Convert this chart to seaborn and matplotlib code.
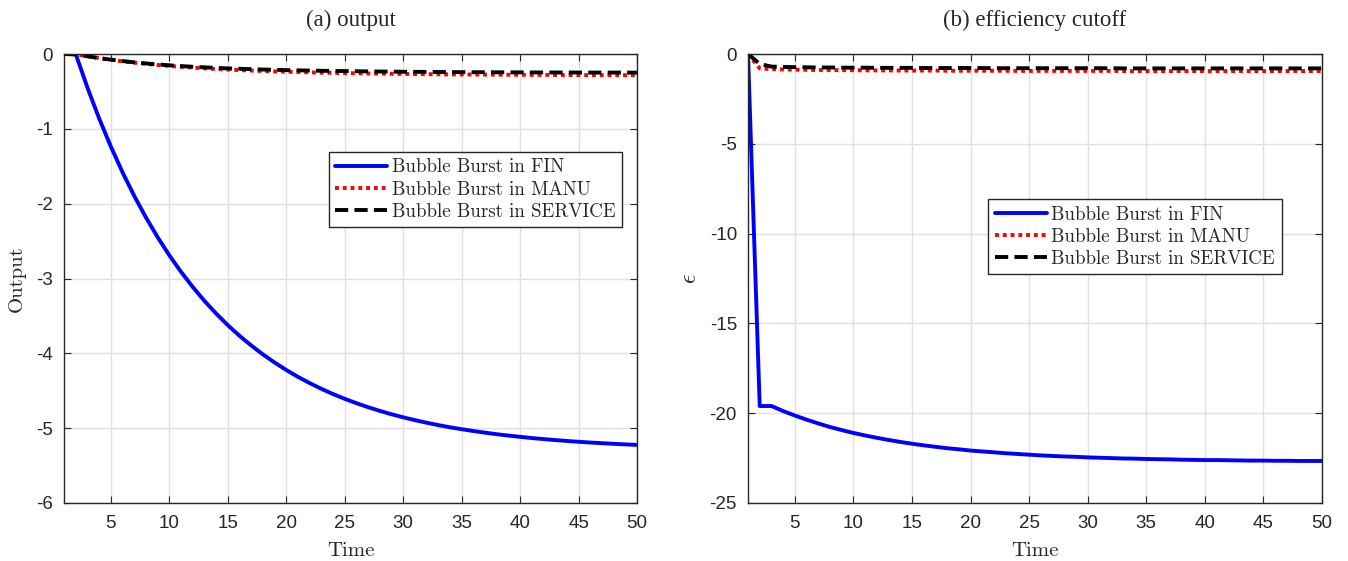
import numpy as np
import pandas as pd
import matplotlib
matplotlib.use("Agg")
import matplotlib.pyplot as plt
import seaborn as sns

time = list(range(1, 51))

# (a) output
out_fin = [0.0, 0.0, -0.449, -0.860, -1.235, -1.580, -1.895, -2.183, -2.447, -2.689,
           -2.910, -3.112, -3.298, -3.467, -3.623, -3.765, -3.894, -4.014, -4.122, -4.222,
           -4.314, -4.397, -4.474, -4.544, -4.608, -4.666, -4.720, -4.769, -4.814, -4.855,
           -4.893, -4.927, -4.959, -4.988, -5.014, -5.038, -5.060, -5.081, -5.099, -5.116,
           -5.132, -5.146, -5.159, -5.171, -5.182, -5.192, -5.201, -5.209, -5.217, -5.224]
out_manu = [0.0, -0.005, -0.030, -0.055, -0.077, -0.097, -0.115, -0.131, -0.146, -0.159,
            -0.171, -0.182, -0.191, -0.200, -0.208, -0.215, -0.221, -0.227, -0.232, -0.237,
            -0.241, -0.245, -0.249, -0.252, -0.255, -0.257, -0.260, -0.262, -0.264, -0.266,
            -0.268, -0.269, -0.271, -0.272, -0.273, -0.274, -0.275, -0.276, -0.277, -0.278,
            -0.279, -0.279, -0.280, -0.281, -0.281, -0.282, -0.282, -0.283, -0.283, -0.283]
out_serv = [0.0, -0.005, -0.030, -0.054, -0.075, -0.094, -0.111, -0.126, -0.139, -0.151,
            -0.161, -0.170, -0.178, -0.185, -0.192, -0.197, -0.202, -0.207, -0.211, -0.215,
            -0.218, -0.221, -0.224, -0.226, -0.228, -0.230, -0.232, -0.234, -0.235, -0.237,
            -0.238, -0.239, -0.240, -0.241, -0.242, -0.243, -0.243, -0.244, -0.245, -0.245,
            -0.246, -0.246, -0.247, -0.247, -0.247, -0.248, -0.248, -0.248, -0.248, -0.249]

# (b) efficiency cutoff
eff_fin = [0.0, -19.60, -19.60, -19.88, -20.13, -20.36, -20.57, -20.77, -20.94, -21.10,
           -21.24, -21.37, -21.49, -21.60, -21.70, -21.79, -21.87, -21.95, -22.01, -22.08,
           -22.13, -22.18, -22.23, -22.27, -22.31, -22.35, -22.38, -22.41, -22.43, -22.46,
           -22.48, -22.50, -22.52, -22.53, -22.55, -22.56, -22.57, -22.59, -22.60, -22.61,
           -22.61, -22.62, -22.63, -22.64, -22.64, -22.65, -22.65, -22.66, -22.66, -22.66]
eff_manu = [0.0, -0.80, -0.84, -0.86, -0.87, -0.88, -0.89, -0.89, -0.90, -0.90,
            -0.91, -0.91, -0.91, -0.92, -0.92, -0.92, -0.92, -0.93, -0.93, -0.93,
            -0.93, -0.93, -0.93, -0.94, -0.94, -0.94, -0.94, -0.94, -0.94, -0.94,
            -0.94, -0.94, -0.95, -0.95, -0.95, -0.95, -0.95, -0.95, -0.95, -0.95,
            -0.95, -0.95, -0.95, -0.95, -0.95, -0.95, -0.95, -0.95, -0.95, -0.95]
eff_serv = [0.0, -0.55, -0.70, -0.72, -0.73, -0.74, -0.75, -0.75, -0.76, -0.76,
            -0.76, -0.77, -0.77, -0.77, -0.77, -0.78, -0.78, -0.78, -0.78, -0.78,
            -0.78, -0.79, -0.79, -0.79, -0.79, -0.79, -0.79, -0.79, -0.79, -0.79,
            -0.79, -0.79, -0.80, -0.80, -0.80, -0.80, -0.80, -0.80, -0.80, -0.80,
            -0.80, -0.80, -0.80, -0.80, -0.80, -0.80, -0.80, -0.80, -0.80, -0.80]

labels = ["Bubble Burst in FIN", "Bubble Burst in MANU", "Bubble Burst in SERVICE"]
xticks = [5, 10, 15, 20, 25, 30, 35, 40, 45, 50]
yticks_a = [0, -1, -2, -3, -4, -5, -6]
yticks_b = [0, -5, -10, -15, -20, -25]

sns.set_style("whitegrid")
plt.rcParams["axes.unicode_minus"] = False
plt.rcParams["font.family"] = ["Liberation Sans", "DejaVu Sans"]
plt.rcParams["axes.formatter.use_mathtext"] = True
plt.rcParams["mathtext.fontset"] = "cm"

fig = plt.figure(figsize=(13.48, 5.61), dpi=100)
ax1 = fig.add_axes([0.0475, 0.1034, 0.4251, 0.8003])
ax2 = fig.add_axes([0.5549, 0.1034, 0.4258, 0.8003])

styles = [dict(color=(0, 0, 1), linestyle="-"),
          dict(color=(1, 0, 0), linestyle=(0, (1, 1))),
          dict(color="black", linestyle=(0, (3.4, 1.6)))]

cm_font = "cmr10"
title_font = "Liberation Serif"


def draw(ax, series, yticks, ylim, ylabel, title, leg_anchor, ylab_x, ylab_size):
    for vals, lab, st in zip(series, labels, styles):
        df = pd.DataFrame({"Time": time, "v": vals})
        sns.lineplot(data=df, x="Time", y="v", ax=ax, label=lab, linewidth=2.8,
                     color=st["color"], linestyle=st["linestyle"])
    ax.set_xlim(1, 50)
    ax.set_ylim(*ylim)
    ax.set_xticks(xticks)
    ax.set_yticks(yticks)
    ax.set_xticklabels([str(t) for t in xticks])
    ax.set_yticklabels([str(t) for t in yticks])
    ax.grid(True, color="#e0e0e0", linewidth=1.0)
    for sp in ax.spines.values():
        sp.set_visible(True)
        sp.set_color("#262626")
        sp.set_linewidth(1.0)
    ax.tick_params(direction="in", length=5, width=0.8, colors="#262626",
                   labelsize=13.5, top=True, right=True, bottom=True, left=True,
                   labelcolor="#262626")
    ax.tick_params(axis="x", pad=9)
    ax.tick_params(axis="y", pad=8)
    ax.set_xlabel("Time", fontfamily=cm_font, fontsize=15)
    ax.xaxis.set_label_coords(0.5, -0.088)
    ax.set_ylabel(ylabel, fontfamily=cm_font, fontsize=ylab_size)
    ax.yaxis.set_label_coords(ylab_x, 0.5)
    ax.set_title(title, fontfamily=title_font, fontsize=16.5, pad=20)
    leg = ax.legend(loc="upper right", bbox_to_anchor=leg_anchor, frameon=True,
                    fancybox=False, shadow=False, framealpha=1, edgecolor="#262626",
                    prop={"family": cm_font, "size": 13.6}, handlelength=2.75,
                    handletextpad=0.25, borderpad=0.35, labelspacing=0.22,
                    borderaxespad=0)
    leg.get_frame().set_linewidth(1.0)


draw(ax1, [out_fin, out_manu, out_serv], yticks_a, (-6, 0), "Output",
     "(a) output", (0.974, 0.782), -0.066, 15)
draw(ax2, [eff_fin, eff_manu, eff_serv], yticks_b, (-25, 0), r"$\epsilon$",
     "(b) efficiency cutoff", (0.930, 0.677), -0.082, 17)

fig.savefig("out.png", dpi=100)
